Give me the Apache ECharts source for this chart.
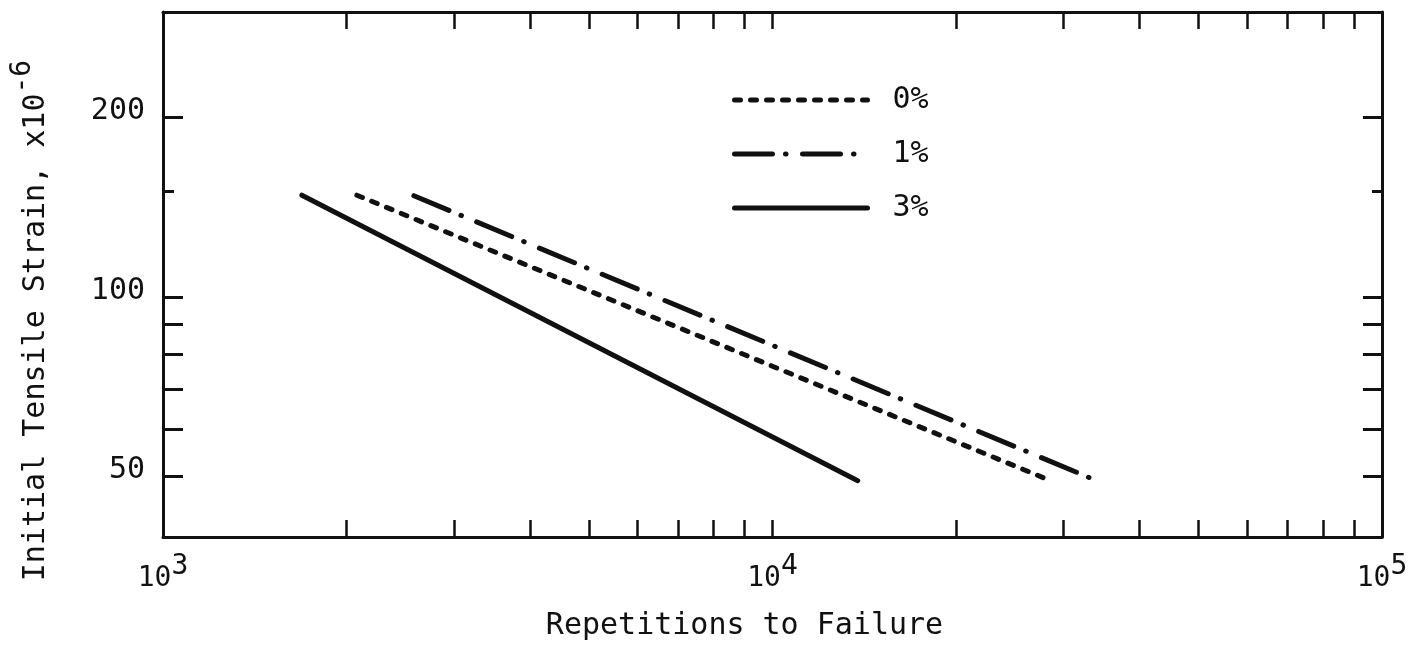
<!DOCTYPE html>
<html>
<head>
<meta charset="utf-8">
<script src="https://cdn.jsdelivr.net/npm/echarts@6/dist/echarts.min.js"></script>
<style>
  html, body { margin: 0; padding: 0; background: #fff; }
  #chart { width: 1416px; height: 650px; }
</style>
</head>
<body>
<div id="chart"></div>
<script>
// Fatigue lines: initial tensile strain vs. repetitions to failure
const seriesNames = ['0%', '1%', '3%'];
const cycles0 = [2080, 28600];
const strain0 = [148, 49.2];
const cycles1 = [2580, 33400];
const strain1 = [147.7, 49.6];
const cycles3 = [1690, 13800];
const strain3 = [148, 49.2];

// Axis ranges and tick positions
const xRange = [1000, 100000];
const yRange = [39.6, 300];
const xTickValues = [2000, 3000, 4000, 5000, 6000, 7000, 8000, 9000, 10000,
                     20000, 30000, 40000, 50000, 60000, 70000, 80000, 90000];
const xLabelValues = [1000, 10000, 100000];
const yTickValues = [200, 100, 90, 80, 70, 60, 50];
const yShortTickValues = [150];
const yLabelValues = [200, 100, 50];

const FONT = '"DejaVu Sans Mono", monospace';
const INK = '#111';
const DASHES = { '0%': [6, 10], '1%': [38, 13, 0.5, 16.5], '3%': 'solid' };

function pairs(xs, ys) { return xs.map((x, i) => [x, ys[i]]); }

function strokeFor(name) {
  return { color: INK, width: 5, type: DASHES[name], cap: 'round' };
}

function xAxisDef(position, withLabels) {
  return {
    type: 'log', logBase: 10, min: xRange[0], max: xRange[1], position,
    gridIndex: 0,
    splitLine: { show: false },
    axisLine: { show: true, lineStyle: { color: INK, width: 3 } },
    axisTick: { show: true, inside: true, length: 17, customValues: xTickValues,
                lineStyle: { color: INK, width: 2.5 } },
    axisLabel: withLabels ? {
      show: true, customValues: xLabelValues, margin: 16,
      formatter: v => '{b|10}{s|' + Math.round(Math.log10(v)) + '}',
      rich: {
        b: { fontFamily: FONT, fontSize: 28, color: INK, lineHeight: 52 },
        s: { fontFamily: FONT, fontSize: 28, color: INK, lineHeight: 28, verticalAlign: 'top' }
      }
    } : { show: false },
    name: withLabels ? 'Repetitions to Failure' : '',
    nameLocation: 'middle', nameGap: 74,
    nameTextStyle: { fontFamily: FONT, fontSize: 30, color: INK, padding: [0, 56, 0, 0] }
  };
}

function yAxisDef(position, ticks, len, withLine, withLabels) {
  return {
    type: 'log', logBase: 10, min: yRange[0], max: yRange[1], position,
    gridIndex: 0,
    splitLine: { show: false },
    axisLine: { show: withLine, lineStyle: { color: INK, width: 3 } },
    axisTick: { show: true, inside: true, length: len, customValues: ticks,
                lineStyle: { color: INK, width: 3 } },
    axisLabel: withLabels ? {
      show: true, customValues: yLabelValues, margin: 18,
      formatter: v => '{v|' + Math.round(v) + '}',
      rich: {
        v: { fontFamily: FONT, fontSize: 30, color: INK, lineHeight: 30, padding: [0, 0, 12, 0] }
      }
    } : { show: false },
    name: withLabels ? '{t|Initial Tensile Strain, x10}{s|-6}' : '',
    nameLocation: 'middle', nameRotate: 90, nameGap: 100,
    nameTextStyle: {
      padding: [0, 92, 0, 0],
      rich: {
        t: { fontFamily: FONT, fontSize: 30, color: INK, lineHeight: 54 },
        s: { fontFamily: FONT, fontSize: 28, color: INK, lineHeight: 28, verticalAlign: 'top' }
      }
    }
  };
}

function lineSeries(name, data) {
  return {
    name, type: 'line', data, xAxisIndex: 0, yAxisIndex: 0,
    symbol: 'none', silent: true, animation: false,
    itemStyle: { color: INK },
    lineStyle: strokeFor(name)
  };
}

const chart = echarts.init(document.getElementById('chart'), null, { renderer: 'canvas' });
chart.setOption({
  animation: false,
  backgroundColor: '#fff',
  grid: { left: 163, right: 34, top: 12, bottom: 113, containLabel: false },
  legend: {
    orient: 'vertical', left: 727, top: 80,
    itemWidth: 133, itemHeight: 30, itemGap: 24,
    selectedMode: false,
    itemStyle: { color: 'rgba(0,0,0,0)', borderWidth: 0, opacity: 0 },
    textStyle: { fontFamily: FONT, fontSize: 30, color: INK, lineHeight: 30, padding: [0, 0, 0, 20] },
    data: seriesNames.map(name => ({ name, lineStyle: strokeFor(name) }))
  },
  xAxis: [xAxisDef('bottom', true), xAxisDef('top', false)],
  yAxis: [
    yAxisDef('left', yTickValues, 20, true, true),
    yAxisDef('left', yShortTickValues, 11, false, false),
    yAxisDef('right', yTickValues, 19, true, false),
    yAxisDef('right', yShortTickValues, 10, false, false)
  ],
  series: seriesNames.map((name, i) =>
    lineSeries(name, [pairs(cycles0, strain0), pairs(cycles1, strain1), pairs(cycles3, strain3)][i]))
});
</script>
</body>
</html>
